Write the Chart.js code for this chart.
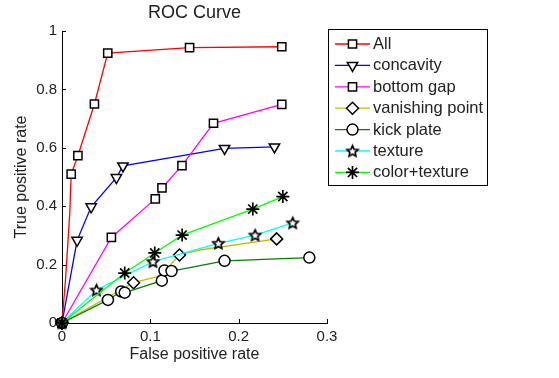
<!DOCTYPE html>
<html><head><meta charset="utf-8">
<script src="https://cdn.jsdelivr.net/npm/chart.js@4/dist/chart.umd.min.js"></script>
<style>html,body{margin:0;padding:0;background:#fff;overflow:hidden}#wrap{width:559px;height:378px;position:relative}</style>
</head><body><div id="wrap"><canvas id="c"></canvas></div>
<script>
// ---- data ----
const seriesNames = ['All','concavity','bottom gap','vanishing point','kick plate','texture','color+texture'];
const allX = [0, 0.004, 0.0088, 0.0104, 0.018, 0.0367, 0.0518, 0.1444, 0.2488];
const allY = [0, 0.15, 0.376, 0.510, 0.573, 0.750, 0.924, 0.943, 0.946];
const allMarks = [0, 3, 4, 5, 6, 7, 8];
const concX = [0, 0.0171, 0.033, 0.0616, 0.069, 0.184, 0.2405];
const concY = [0, 0.283, 0.398, 0.498, 0.538, 0.598, 0.603];
const gapX = [0, 0.0559, 0.1056, 0.1132, 0.1358, 0.1715, 0.2488];
const gapY = [0, 0.293, 0.425, 0.463, 0.539, 0.684, 0.749];
const vanX = [0, 0.081, 0.108, 0.120, 0.133, 0.156, 0.243];
const vanY = [0, 0.138, 0.159, 0.190, 0.233, 0.250, 0.288];
const vanMarks = [0, 1, 4, 6];
const kickX = [0, 0.052, 0.067, 0.071, 0.113, 0.116, 0.124, 0.184, 0.280];
const kickY = [0, 0.079, 0.108, 0.104, 0.145, 0.180, 0.178, 0.213, 0.224];
const texX = [0, 0.039, 0.103, 0.177, 0.2186, 0.2612];
const texY = [0, 0.113, 0.210, 0.273, 0.301, 0.343];
const ctX = [0, 0.071, 0.105, 0.136, 0.216, 0.250];
const ctY = [0, 0.171, 0.240, 0.301, 0.390, 0.433];
const xTicks = [0, 0.1, 0.2, 0.3];
const xTickLabels = ['0', '0.1', '0.2', '0.3'];
const yTicks = [0, 0.2, 0.4, 0.6, 0.8, 1];
const yTickLabels = ['0', '0.2', '0.4', '0.6', '0.8', '1'];
const chartTitle = 'ROC Curve';
const xTitle = 'False positive rate';
const yTitle = 'True positive rate';

// ---- styling ----
const FONT = "'Liberation Sans', Arial, Helvetica, sans-serif";
Chart.defaults.font.family = FONT;
Chart.defaults.color = '#222';

// pentagram marker
function makePentagram(r) {
  const s = Math.ceil(r * 2 + 5);
  const cv = document.createElement('canvas');
  cv.width = s; cv.height = s;
  const c = cv.getContext('2d');
  c.translate(s / 2, s / 2 + 0.5);
  c.beginPath();
  for (let k = 0; k < 10; k++) {
    const rr = k % 2 === 0 ? r : r * 0.48;
    const a = -Math.PI / 2 + k * Math.PI / 5;
    const px = Math.cos(a) * rr, py = Math.sin(a) * rr;
    if (k === 0) c.moveTo(px, py); else c.lineTo(px, py);
  }
  c.closePath();
  c.fillStyle = '#fff'; c.fill();
  c.lineJoin = 'miter';
  c.lineWidth = 1.7; c.strokeStyle = '#000'; c.stroke();
  return cv;
}
const pentagram = makePentagram(5.8);

const styles = [
  {color: '#ff0000', style: 'rect', radius: 5.8, rot: 0},
  {color: '#0000ff', style: 'triangle', radius: 6, rot: 180},
  {color: '#ff00ff', style: 'rect', radius: 5.8, rot: 0},
  {color: '#bfbf00', style: 'rectRot', radius: 6, rot: 0},
  {color: '#008000', style: 'circle', radius: 5.5, rot: 0},
  {color: '#00ffff', style: pentagram, radius: 5, rot: 0},
  {color: '#00ff00', style: 'star', radius: 6.5, rot: 0}
];

const seriesData = [
  [allX, allY, allMarks], [concX, concY, null], [gapX, gapY, null],
  [vanX, vanY, vanMarks], [kickX, kickY, null], [texX, texY, null], [ctX, ctY, null]
];

const datasets = seriesData.map((s, i) => {
  const [xs, ys, marks] = s;
  const st = styles[i];
  return {
    label: seriesNames[i],
    data: xs.map((x, j) => ({x: x, y: ys[j]})),
    showLine: true,
    borderColor: st.color,
    backgroundColor: st.color,
    borderWidth: 1.3,
    pointStyle: st.style,
    pointRotation: st.rot,
    pointRadius: xs.map((_, j) => (!marks || marks.includes(j)) ? st.radius : 0),
    pointHoverRadius: xs.map((_, j) => (!marks || marks.includes(j)) ? st.radius : 0),
    pointBorderColor: '#000',
    pointBackgroundColor: '#fff',
    pointBorderWidth: i === 6 ? 1.7 : 1.5,
    tension: 0,
    fill: false,
    clip: false,
    order: seriesNames.length - 1 - i
  };
});

const decor = {
  id: 'decor',
  afterDraw(chart) {
    const ctx = chart.ctx;
    const a = chart.chartArea;
    const xs = chart.scales.x, ys = chart.scales.y;
    ctx.save();
    // inward tick marks
    ctx.strokeStyle = '#000'; ctx.lineWidth = 1;
    ctx.beginPath();
    xTicks.forEach(v => {
      const px = Math.round(xs.getPixelForValue(v)) + 0.5;
      ctx.moveTo(px, a.bottom); ctx.lineTo(px, a.bottom - 4);
    });
    yTicks.forEach(v => {
      const py = Math.round(ys.getPixelForValue(v)) + 0.5;
      ctx.moveTo(a.left, py); ctx.lineTo(a.left + 4, py);
    });
    ctx.stroke();
    // titles
    ctx.fillStyle = '#222';
    ctx.textAlign = 'center'; ctx.textBaseline = 'middle';
    ctx.font = '18px ' + FONT;
    ctx.fillText(chartTitle, (a.left + a.right) / 2, 13);
    ctx.font = '16px ' + FONT;
    ctx.fillText(xTitle, (a.left + a.right) / 2, 355);
    ctx.save();
    ctx.translate(22, (a.top + a.bottom) / 2);
    ctx.rotate(-Math.PI / 2);
    ctx.fillText(yTitle, 0, 0);
    ctx.restore();
    // legend
    const lx = 328, ly = 29, lw = 159, lh = 156;
    ctx.fillStyle = '#fff';
    ctx.fillRect(lx, ly, lw, lh);
    ctx.strokeStyle = '#000'; ctx.lineWidth = 1;
    ctx.strokeRect(lx + 0.5, ly + 0.5, lw, lh);
    ctx.font = '16.5px ' + FONT;
    ctx.textAlign = 'left'; ctx.textBaseline = 'middle';
    chart.data.datasets.forEach((ds, i) => {
      const y = 44 + i * 21.4;
      ctx.strokeStyle = ds.borderColor; ctx.lineWidth = 1.3;
      ctx.beginPath(); ctx.moveTo(335, y); ctx.lineTo(370, y); ctx.stroke();
      ctx.fillStyle = '#fff'; ctx.strokeStyle = '#000'; ctx.lineWidth = ds.pointBorderWidth;
      Chart.helpers.drawPoint(ctx, {pointStyle: ds.pointStyle, rotation: ds.pointRotation, radius: styles[i].radius, borderWidth: ds.pointBorderWidth}, 352.5, y);
      ctx.fillStyle = '#222';
      ctx.fillText(ds.label, 373, y + 0.5);
    });
    ctx.restore();
  }
};

new Chart(document.getElementById('c'), {
  type: 'scatter',
  data: {datasets: datasets},
  options: {
    responsive: true,
    maintainAspectRatio: false,
    animation: false,
    devicePixelRatio: 1,
    layout: {padding: {left: 0, right: 559 - 327, top: 31, bottom: 0}},
    plugins: {legend: {display: false}, tooltip: {enabled: false}, title: {display: false}},
    scales: {
      x: {
        type: 'linear', min: 0, max: 0.3,
        afterFit(s) { s.height = 55; },
        afterBuildTicks(s) { s.ticks = xTicks.map(v => ({value: v})); },
        grid: {display: false, drawTicks: false},
        border: {display: true, color: '#000', width: 1},
        ticks: {font: {size: 15}, color: '#222', padding: 5, maxRotation: 0, autoSkip: false,
          callback: (v, i) => xTickLabels[i]}
      },
      y: {
        type: 'linear', min: 0, max: 1,
        afterFit(s) { s.width = 62; },
        afterBuildTicks(s) { s.ticks = yTicks.map(v => ({value: v})); },
        grid: {display: false, drawTicks: false},
        border: {display: true, color: '#000', width: 1},
        ticks: {font: {size: 15}, color: '#222', padding: 5, autoSkip: false,
          callback: (v, i) => yTickLabels[i]}
      }
    }
  },
  plugins: [decor]
});
</script></body></html>
